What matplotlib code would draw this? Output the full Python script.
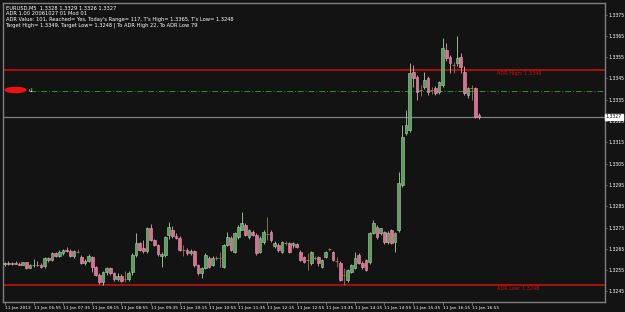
import numpy as np
import matplotlib
matplotlib.use("Agg")
import matplotlib.pyplot as plt
from matplotlib.patches import Ellipse

# EURUSD M5, 11 Jan 2013 -- prices in pips above the day's low (1.3248)
base = 1.3248
opens = [9.8, 10.4, 9.8, 10.5, 10.0, 9.6, 10.6, 8.2, 9.4, 9.6,
         9.4, 8.8, 12.6, 11.6, 14.8, 13.8, 15.2, 16.6, 16.0, 13.8,
         15.6, 13.0, 10.4, 11.2, 13.2, 8.5, 4.7, 1.4, 6.1, 8.0,
         5.6, 2.6, 4.4, 3.0, 3.0, 6.1, 14.1, 19.7, 17.6, 15.8,
         26.8, 21.1, 18.8, 13.6, 14.1, 23.5, 25.8, 22.8, 22.0, 16.4,
         16.4, 15.0, 16.0, 9.4, 5.6, 8.0, 12.7, 9.4, 12.7, 12.7,
         8.5, 18.8, 22.1, 15.5, 22.5, 25.8, 28.2, 22.5, 24.9, 23.5,
         15.5, 20.2, 24.0, 24.9, 18.4, 18.8, 15.5, 19.7, 19.7, 18.8,
         19.2, 15.5, 13.1, 11.7, 10.3, 12.7, 13.1, 8.5, 13.1, 16.8,
         15.5, 11.2, 10.3, 4.7, 2.3, 6.1, 8.0, 14.1, 10.3, 11.7,
         10.8, 24.4, 27.2, 24.4, 24.9, 20.2, 25.8, 20.2, 25.8, 46.9,
         71.4, 72.8, 100.0, 97.7, 91.5, 93.0, 97.2, 91.5, 92.5, 90.6,
         93.9, 110.3, 107.0, 103.3, 104.2, 107.0, 100.0, 89.2, 92.5, 92.5,
         80.0]
highs = [11.0, 11.2, 10.8, 11.4, 10.6, 10.9, 11.0, 9.8, 12.0, 11.2,
         10.2, 13.0, 13.2, 15.6, 15.4, 16.2, 17.0, 18.0, 16.8, 16.4,
         16.8, 14.0, 12.0, 14.6, 13.8, 9.0, 5.4, 6.8, 8.6, 8.4,
         6.0, 5.4, 5.0, 6.8, 6.6, 15.0, 24.4, 20.4, 21.1, 27.4,
         28.6, 21.6, 19.4, 15.5, 23.0, 29.6, 27.8, 24.6, 22.8, 18.8,
         17.2, 16.8, 16.6, 9.8, 8.6, 14.8, 13.6, 13.4, 13.6, 15.4,
         19.4, 24.9, 22.8, 25.0, 28.0, 34.3, 29.0, 26.4, 25.6, 24.2,
         23.0, 25.6, 31.9, 25.6, 20.6, 19.6, 20.6, 20.8, 20.4, 20.2,
         19.8, 16.2, 13.8, 15.0, 16.0, 13.6, 13.4, 12.2, 16.0, 17.6,
         16.0, 13.1, 11.2, 8.0, 7.5, 10.0, 15.5, 14.8, 11.2, 12.4,
         25.0, 30.5, 28.0, 27.0, 25.4, 25.2, 26.4, 24.9, 53.1, 75.1,
         82.2, 104.2, 103.3, 98.6, 94.0, 100.0, 98.0, 93.0, 93.4, 96.0,
         116.0, 113.6, 108.0, 104.7, 117.0, 108.9, 103.0, 93.0, 93.9, 93.0,
         81.0]
lows = [9.0, 9.4, 9.2, 9.8, 9.2, 9.2, 7.6, 7.8, 8.6, 8.8,
        8.0, 8.2, 11.0, 11.2, 13.2, 13.2, 14.0, 15.4, 13.2, 12.6,
        14.8, 9.8, 9.6, 10.6, 6.0, 4.0, 0.6, 0.0, 4.8, 4.6,
        1.8, 2.0, 1.2, 1.6, 2.0, 4.6, 13.0, 16.0, 15.0, 15.0,
        20.6, 18.4, 13.6, 8.5, 13.0, 21.6, 22.0, 21.6, 15.8, 13.6,
        14.2, 14.0, 8.6, 4.6, 3.3, 7.4, 8.0, 8.8, 11.8, 8.6,
        8.0, 18.2, 15.8, 14.8, 21.8, 25.8, 22.8, 21.6, 23.0, 14.2,
        14.8, 19.4, 21.1, 20.4, 17.4, 15.4, 14.8, 18.8, 15.0, 17.6,
        17.2, 11.2, 10.2, 7.0, 9.6, 11.6, 9.0, 7.8, 12.6, 16.0,
        11.2, 8.5, 1.8, 0.0, 1.4, 5.4, 7.4, 9.8, 7.4, 6.4,
        10.0, 23.8, 21.6, 23.4, 19.4, 19.4, 19.2, 15.5, 25.0, 46.0,
        70.4, 72.0, 93.0, 86.9, 88.6, 92.0, 89.2, 89.8, 89.2, 89.8,
        93.0, 105.0, 99.5, 99.5, 103.0, 99.5, 89.2, 88.0, 87.0, 78.4,
        78.0]
closes = [10.4, 9.8, 10.5, 10.0, 9.6, 10.6, 8.2, 9.4, 9.6, 9.4,
          8.6, 12.6, 11.6, 14.8, 13.8, 15.6, 16.6, 16.0, 13.8, 15.8,
          15.6, 10.4, 11.2, 13.6, 8.5, 4.7, 1.4, 6.1, 8.0, 5.6,
          2.6, 4.4, 2.0, 3.0, 5.4, 14.1, 19.7, 16.4, 15.8, 26.8,
          21.1, 18.8, 14.6, 14.4, 22.5, 27.2, 22.8, 22.0, 16.4, 16.4,
          15.0, 16.0, 9.4, 5.6, 8.0, 14.1, 8.5, 12.7, 12.7, 12.7,
          18.8, 22.5, 16.4, 24.4, 27.2, 29.1, 23.5, 25.8, 23.5, 15.0,
          22.1, 24.9, 24.0, 21.1, 19.7, 16.4, 20.2, 19.7, 15.5, 19.7,
          17.8, 11.7, 10.8, 11.7, 15.5, 12.7, 10.3, 11.7, 15.5, 16.8,
          11.7, 11.2, 2.3, 4.7, 7.0, 9.4, 12.7, 10.3, 8.5, 7.0,
          24.4, 29.1, 22.5, 26.8, 20.2, 24.4, 19.7, 24.4, 47.9, 69.5,
          75.1, 99.5, 97.2, 90.6, 91.5, 96.2, 90.6, 91.5, 90.1, 95.3,
          111.3, 106.6, 104.2, 103.3, 106.6, 102.3, 90.1, 92.5, 92.5, 78.9,
          79.0]

price_ticks = [1.3375, 1.3365, 1.3355, 1.3345, 1.3335, 1.3325, 1.3315,
               1.3305, 1.3295, 1.3285, 1.3275, 1.3265, 1.3255, 1.3245]
time_labels = ["11 Jan 2013", "11 Jan 06:55", "11 Jan 07:35", "11 Jan 08:15",
               "11 Jan 08:55", "11 Jan 09:35", "11 Jan 10:15", "11 Jan 10:55",
               "11 Jan 11:35", "11 Jan 12:15", "11 Jan 12:55", "11 Jan 13:35",
               "11 Jan 14:15", "11 Jan 14:55", "11 Jan 15:35", "11 Jan 16:15",
               "11 Jan 16:55"]
adr_high = 1.3349
adr_low = 1.3248
green_level = 1.3339
bid = 1.3327
header = ["EURUSD,M5  1.3328 1.3329 1.3326 1.3327",
          "ADR 1.00 20061027 01 Mod 01",
          "ADR Value: 101, Reached= Yes, Today's Range= 117, T's High= 1.3365, T's Low= 1.3248",
          "Target High= 1.3349, Target Low= 1.3248 | To ADR High 22, To ADR Low 79"]

o = base + np.array(opens) / 10000
h = base + np.array(highs) / 10000
l = base + np.array(lows) / 10000
c = base + np.array(closes) / 10000
x = np.arange(len(o))

bg = "#131313"
fig = plt.figure(figsize=(6.25, 3.12), dpi=100, facecolor=bg)
ax = fig.add_axes([0.005, 0.032, 0.963, 0.958], facecolor=bg)

up = c > o + 1e-6
down = c < o - 1e-6
flat = ~(up | down)

w = 0.74
# wicks
ax.vlines(x[up], l[up], h[up], color="#a9d4a9", lw=0.6, zorder=2)
ax.vlines(x[down], l[down], h[down], color="#eaa0b8", lw=0.6, zorder=2)
ax.vlines(x[flat], l[flat], h[flat], color="#9a7a48", lw=0.6, zorder=2)
# bodies
ax.bar(x[up], c[up] - o[up], bottom=o[up], width=w, color="#5e9e5e",
       edgecolor="#a9d4a9", lw=0.4, zorder=3)
ax.bar(x[down], c[down] - o[down], bottom=o[down], width=w, color="#d9708f",
       edgecolor="#eaa0b8", lw=0.4, zorder=3)
ax.hlines(c[flat], x[flat] - w / 2, x[flat] + w / 2, color="#9a7a48", lw=0.7, zorder=3)

# levels
ax.axhline(adr_high, color="#d01010", lw=1.1, zorder=1)
ax.axhline(adr_low, color="#d01010", lw=1.1, zorder=1)
ax.axhline(bid, color="#7c8088", lw=0.9, zorder=1)
ax.hlines(green_level, 7, 170, color="#2f8f2f", lw=0.7, linestyles=(0, (6, 2, 1, 2)), zorder=1)
ax.text(135, adr_high - 0.00005, "ADR High: 1.3349", color="#d01010", fontsize=3.6,
        va="top", ha="left")
ax.text(135, adr_low - 0.00005, "ADR Low: 1.3248", color="#d01010", fontsize=3.6,
        va="top", ha="left")
ax.add_patch(Ellipse((3.0, green_level + 0.00006), 5.6, 0.00024, color="#ee1111", zorder=4))
ax.text(6.6, green_level + 0.00002, "ul", color="white", fontsize=3.5, va="center", zorder=5)

ax.set_xlim(-0.4, 164.5)
ax.set_ylim(1.3240, 1.33804)

ax.yaxis.tick_right()
ax.set_yticks(price_ticks)
ax.set_yticklabels([f"{p:.4f}" for p in price_ticks])
ax.tick_params(axis="y", colors="#7f7f7f", labelcolor="white", labelsize=3.3,
               length=1.5, width=0.6, pad=0.8)
ax.set_xticks(np.arange(0, 8 * len(time_labels), 8))
ax.set_xticklabels(time_labels)
ax.tick_params(axis="x", colors="#7f7f7f", labelcolor="white", labelsize=3.1,
               length=2, width=0.6, pad=1)
for lab in ax.get_xticklabels():
    lab.set_ha("left")
for s in ax.spines.values():
    s.set_color("#7f7f7f")
    s.set_linewidth(1.0)

# current price marker
ax.text(1.0015, bid, f"{bid:.4f}", transform=ax.get_yaxis_transform(), fontsize=3.3,
        color="black", va="center", ha="left",
        bbox=dict(boxstyle="square,pad=0.15", fc="white", ec="white"))

for k, line in enumerate(header):
    ax.text(0.004, 0.992 - k * 0.019, line, transform=ax.transAxes, color="white",
            fontsize=3.7, va="top", ha="left")

fig.savefig("out.png", dpi=100, facecolor=bg)
